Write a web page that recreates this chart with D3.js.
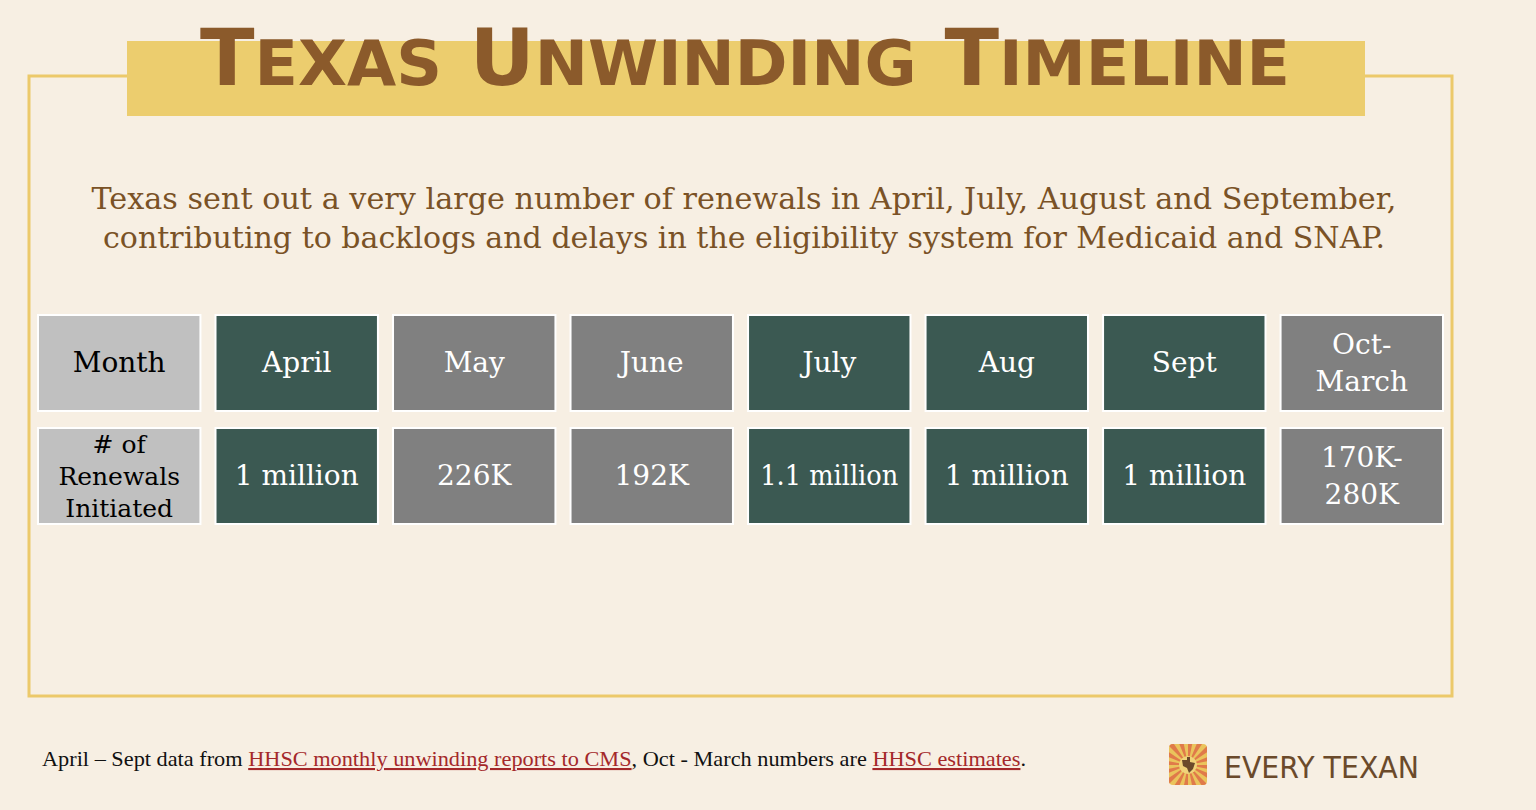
<!DOCTYPE html>
<html><head><meta charset="utf-8">
<script src="https://cdn.jsdelivr.net/npm/d3@7"></script>
<style>body{margin:0;background:#f7efe3;}</style>
</head><body>
<script>
const months = ["Month","April","May","June","July","Aug","Sept","Oct-\nMarch"];
const renewals = ["# of\nRenewals\nInitiated","1 million","226K","192K","1.1 million","1 million","1 million","170K-\n280K"];
const kinds = ["label","high","low","low","high","high","high","low"];
const colors = {label:"#c0c0c0", high:"#3b5952", low:"#808080"};

const W=1536,H=810;
const svg=d3.select("body").append("svg").attr("width",W).attr("height",H);
svg.append("rect").attr("width",W).attr("height",H).attr("fill","#f7efe3");
svg.append("rect").attr("x",29).attr("y",76).attr("width",1423).attr("height",620).attr("fill","none").attr("stroke","#ecc96a").attr("stroke-width",3);
svg.append("rect").attr("x",127).attr("y",41).attr("width",1238).attr("height",75).attr("fill","#eccd6e");
const tt=svg.append("text").attr("x",745).attr("y",85).attr("text-anchor","middle")
  .attr("font-family","'DejaVu Sans'").attr("font-weight","bold")
  .attr("fill","#8b5a2b").attr("textLength",1090).attr("lengthAdjust","spacingAndGlyphs");
["Texas","Unwinding","Timeline"].forEach((w,i)=>{
  tt.append("tspan").attr("font-size",78).text((i?" ":"")+w[0]);
  tt.append("tspan").attr("font-size",62).text(w.slice(1).toUpperCase());
});
const sub=["Texas sent out a very large number of renewals in April, July, August and September,","contributing to backlogs and delays in the eligibility system for Medicaid and SNAP."];
sub.forEach((s,i)=>svg.append("text").attr("x",744).attr("y",209+i*39).attr("text-anchor","middle")
  .attr("font-family","'DejaVu Serif'").attr("font-size",29).attr("fill","#7a5226")
  .attr("textLength",i?1282:1305).attr("lengthAdjust","spacingAndGlyphs").text(s));

const x=d3.scaleBand().domain(d3.range(months.length)).range([38,1443]).paddingInner(0.085);
const rows=[{vals:months,y:315,h:96},{vals:renewals,y:428,h:96}];
rows.forEach(r=>{
  const g=svg.append("g").selectAll("g").data(r.vals).join("g");
  g.append("rect").attr("x",(d,i)=>x(i)).attr("y",r.y).attr("width",x.bandwidth()).attr("height",r.h)
   .attr("fill",(d,i)=>colors[kinds[i]]).attr("stroke","#ffffff").attr("stroke-width",2);
  g.each(function(d,i){
    const lines=d.split("\n"), lh=lines.length>2?32:37;
    const t=d3.select(this).append("text").attr("text-anchor","middle")
      .attr("font-family","'DejaVu Serif'").attr("font-size",lines.length>2?25:28)
      .attr("fill",kinds[i]==="label"?"#000":"#fff");
    lines.forEach((l,k)=>t.append("tspan").attr("x",x(i)+x.bandwidth()/2)
      .attr("y",r.y+r.h/2+9+(k-(lines.length-1)/2)*lh)
      .attr("textLength",l.length>9?(i===4?138:124):null).attr("lengthAdjust","spacingAndGlyphs").text(l));
  });
});

const ft=svg.append("text").attr("x",42).attr("y",766).attr("font-family","'Liberation Serif'").attr("font-size",21).attr("fill","#111")
  .attr("textLength",984).attr("lengthAdjust","spacingAndGlyphs");
ft.append("tspan").text("April – Sept data from ");
ft.append("tspan").attr("fill","#a4282a").attr("text-decoration","underline").text("HHSC monthly unwinding reports to CMS");
ft.append("tspan").text(", Oct - March numbers are ");
ft.append("tspan").attr("fill","#a4282a").attr("text-decoration","underline").text("HHSC estimates");
ft.append("tspan").text(".");

// logo
const defs=svg.append("defs");
defs.append("clipPath").attr("id","lc").append("rect").attr("x",-19).attr("y",-21).attr("width",38).attr("height",41).attr("rx",4);
const rays=svg.append("g").attr("transform","translate(1188,765)").append("g").attr("clip-path","url(#lc)");
rays.append("rect").attr("x",-19).attr("y",-21).attr("width",38).attr("height",41).attr("fill","#eac45c");
d3.range(16).forEach(k=>{const a0=k*Math.PI/8,a1=a0+Math.PI/16;
  rays.append("path").attr("d",`M0,0L${40*Math.cos(a0)},${40*Math.sin(a0)}L${40*Math.cos(a1)},${40*Math.sin(a1)}Z`).attr("fill","#e07a4a");});
rays.append("circle").attr("r",9).attr("fill","#f0d27a");
rays.append("path").attr("d","M-6,-5L-1,-5L-1,-8L2,-8L2,-3L7,-2L5,4L1,8L-1,3L-5,1Z").attr("fill","#6b4a2b");
svg.append("text").attr("x",1224).attr("y",778).attr("font-family","'DejaVu Sans'").attr("font-size",30)
  .attr("fill","#6b4a2b").attr("textLength",195).attr("lengthAdjust","spacingAndGlyphs").text("EVERY TEXAN");
</script>
</body></html>
